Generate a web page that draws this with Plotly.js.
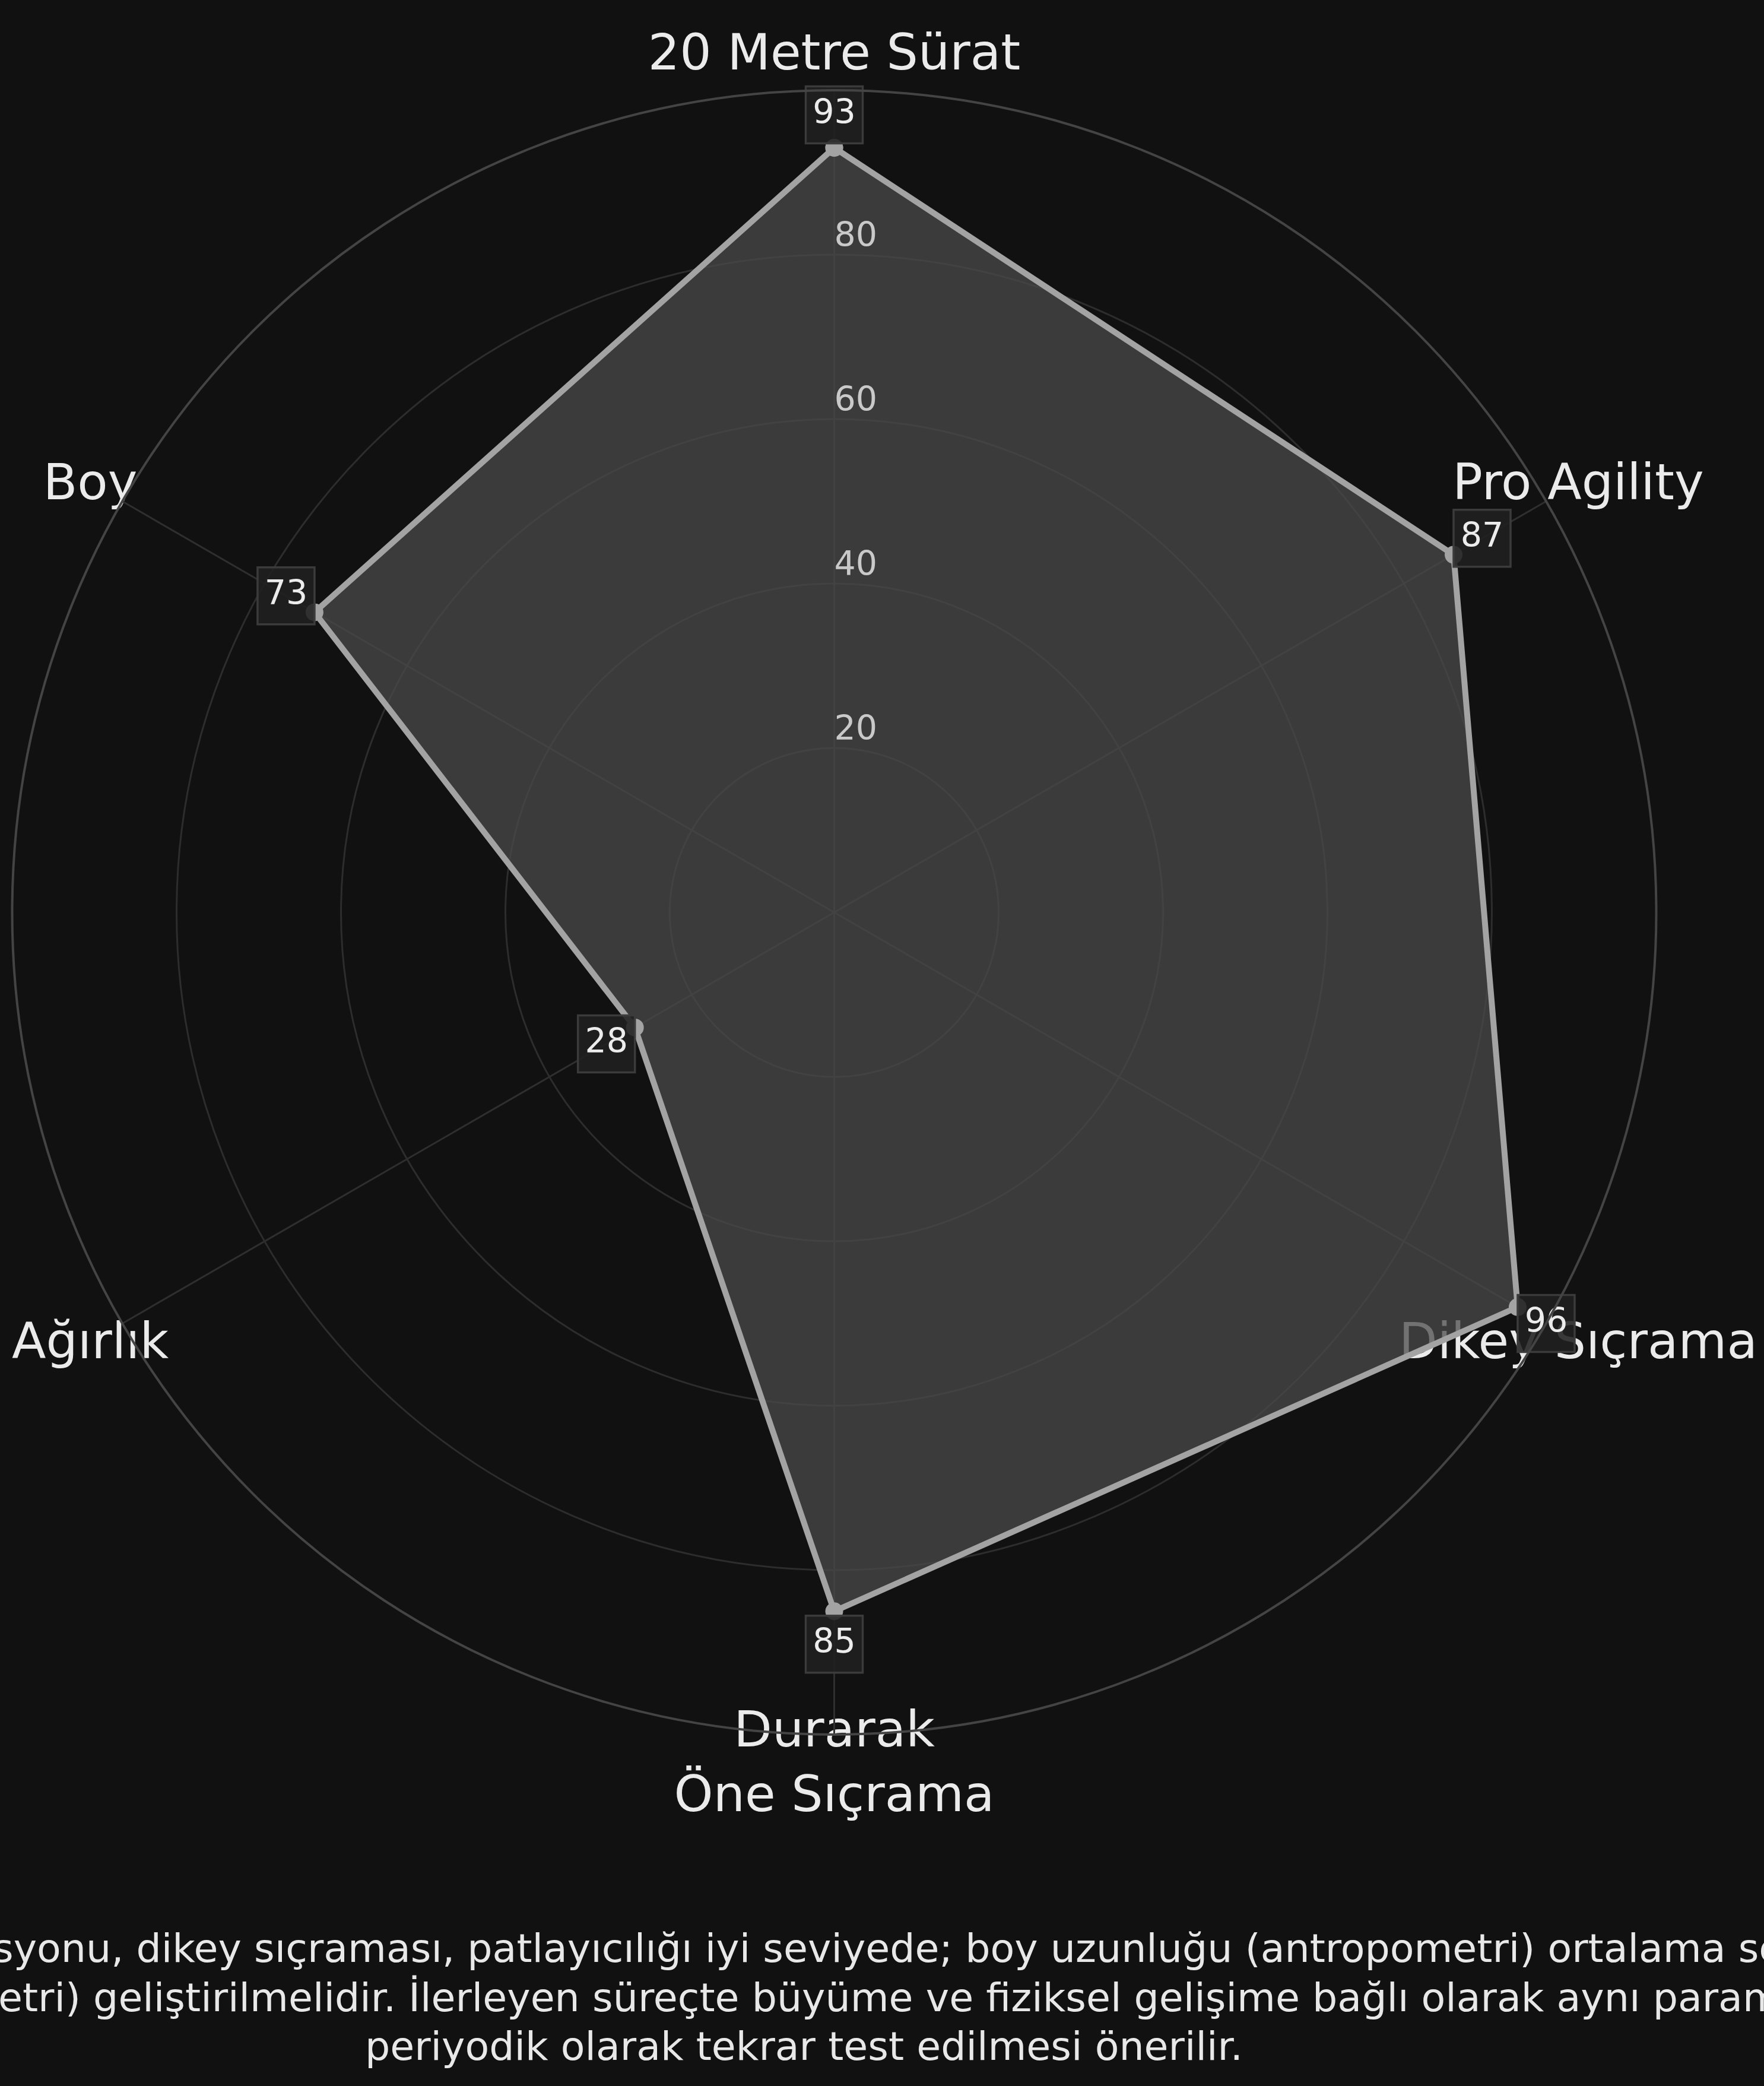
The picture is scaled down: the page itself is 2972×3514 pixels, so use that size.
<!DOCTYPE html>
<html>
<head>
<meta charset="utf-8">
<script src="https://cdn.plot.ly/plotly-3.0.1.min.js"></script>
<style>
  html, body { margin: 0; padding: 0; background: #111111; }
  #chart { width: 2972px; height: 3514px; }
</style>
</head>
<body>
<div id="chart"></div>
<script>
// ---- data ----
const categories = ["20 Metre Sürat", "Pro Agility", "Dikey Sıçrama", "Durarak Öne Sıçrama", "Ağırlık", "Boy"];
const categoryLabels = ["20 Metre Sürat", "Pro Agility", "Dikey Sıçrama", "Durarak<br>Öne Sıçrama", "Ağırlık", "Boy"];
const scores = [93, 87, 96, 85, 28, 73];
const radialTicks = [20, 40, 60, 80];
const radialTickLabels = ["20", "40", "60", "80"];
const captionLines = [
  "syonu, dikey sıçraması, patlayıcılığı iyi seviyede; boy uzunluğu (antropometri) ortalama se",
  "etri) geliştirilmelidir. İlerleyen süreçte büyüme ve fiziksel gelişime bağlı olarak aynı param",
  "periyodik olarak tekrar test edilmesi önerilir."
];

// ---- geometry / style constants ----
const FONT = "DejaVu Sans, sans-serif";
const W = 2972, H = 3514;
const CX = 1405.5, CY = 1537;   // polar centre in page pixels
const RADIUS_PX = 1385;         // pixel radius of r = 100
const R_MAX = 100;
const PX_PER_UNIT = RADIUS_PX / R_MAX;
const BADGE_OFFSET = 4;         // radial offset of value badges (axis units)
const LABEL_R = 104.5;          // radial position of category labels (axis units)
const LABEL_R_TWO_LINE = 103.4;
const LABEL_DY = -0.45;         // small downward nudge of category labels (axis units)

const closedTheta = categories.concat([categories[0]]);
const closedR = scores.concat([scores[0]]);

// category label positions on an overlay cartesian frame sharing the polar centre/scale
const n = categories.length;
const labelAngles = categories.map((_, i) => (90 - 360 * i / n) * Math.PI / 180);
const labelRadii = categoryLabels.map(t => t.includes("<br>") ? LABEL_R_TWO_LINE : LABEL_R);
const labelX = labelAngles.map((a, i) => labelRadii[i] * Math.cos(a));
const labelY = labelAngles.map((a, i) => labelRadii[i] * Math.sin(a) + LABEL_DY);

const traces = [
  {
    type: "scatter",
    x: labelX,
    y: labelY,
    mode: "text",
    text: categoryLabels,
    textposition: "middle center",
    textfont: { family: FONT, size: 84, color: "#ebebeb" },
    hoverinfo: "skip",
    xaxis: "x", yaxis: "y",
    cliponaxis: false
  },
  {
    type: "scatterpolar",
    r: closedR,
    theta: closedTheta,
    mode: "lines+markers",
    fill: "toself",
    fillcolor: "rgba(74,74,74,0.75)",
    line: { color: "#a3a3a3", width: 10 },
    marker: { color: "#a3a3a3", size: 30 },
    hoverinfo: "skip",
    cliponaxis: false
  },
  {
    type: "scatterpolar",
    r: scores.map(v => v + BADGE_OFFSET),
    theta: categories,
    mode: "markers+text",
    text: scores.map(v => String(v)),
    textposition: "middle center",
    textfont: { family: FONT, size: 57, color: "#ececec" },
    marker: { symbol: "square", size: 96, color: "rgba(32,32,32,0.88)",
              line: { color: "#3b3b3b", width: 3.5 } },
    hoverinfo: "skip",
    cliponaxis: false
  },
  {
    type: "scatterpolar",
    r: radialTicks,
    theta: radialTicks.map(() => categories[0]),
    mode: "text",
    text: radialTickLabels,
    textposition: "top right",
    textfont: { family: FONT, size: 57, color: "#c9c9c9" },
    hoverinfo: "skip",
    cliponaxis: false
  }
];

const captionFont = { family: FONT, size: 66.6, color: "#e8e8e8" };

const layout = {
  width: W,
  height: H,
  margin: { l: 0, r: 0, t: 0, b: 0, pad: 0 },
  paper_bgcolor: "#111111",
  plot_bgcolor: "rgba(0,0,0,0)",
  showlegend: false,
  hovermode: false,
  font: { family: FONT, color: "#e8e8e8" },
  xaxis: {
    domain: [0, 1], range: [-CX / PX_PER_UNIT, (W - CX) / PX_PER_UNIT],
    visible: false, fixedrange: true
  },
  yaxis: {
    domain: [0, 1], range: [-(H - CY) / PX_PER_UNIT, CY / PX_PER_UNIT],
    visible: false, fixedrange: true
  },
  polar: {
    domain: {
      x: [(CX - RADIUS_PX) / W, (CX + RADIUS_PX) / W],
      y: [1 - (CY + RADIUS_PX) / H, 1 - (CY - RADIUS_PX) / H]
    },
    bgcolor: "rgba(0,0,0,0)",
    radialaxis: {
      range: [0, R_MAX],
      tickvals: radialTicks,
      showticklabels: false,
      ticks: "",
      showline: false,
      gridcolor: "#2d2d2d",
      gridwidth: 3,
      angle: 90
    },
    angularaxis: {
      type: "category",
      categoryarray: categories,
      rotation: 90,
      direction: "clockwise",
      showticklabels: false,
      ticks: "",
      showline: true,
      linecolor: "#444444",
      linewidth: 4,
      gridcolor: "#2f2f2f",
      gridwidth: 3
    }
  },
  annotations: [
    { text: captionLines[0], xref: "paper", yref: "paper", x: -14 / W, y: 0.06602,
      xanchor: "left", yanchor: "middle", showarrow: false, font: captionFont },
    { text: captionLines[1], xref: "paper", yref: "paper", x: -5 / W, y: 0.04254,
      xanchor: "left", yanchor: "middle", showarrow: false, font: captionFont },
    { text: captionLines[2], xref: "paper", yref: "paper", x: 1354 / W, y: 0.01907,
      xanchor: "center", yanchor: "middle", showarrow: false, font: captionFont }
  ]
};

Plotly.newPlot("chart", traces, layout, { displayModeBar: false, staticPlot: true });
</script>
</body>
</html>
